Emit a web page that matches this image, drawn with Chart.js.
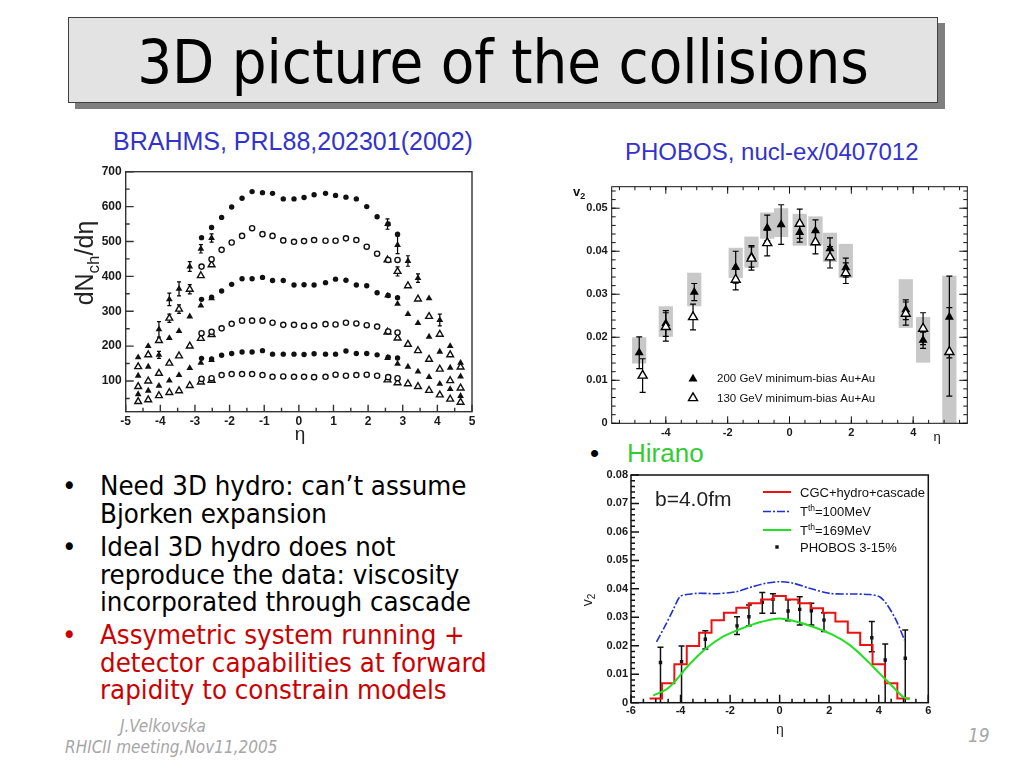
<!DOCTYPE html>
<html lang="en">
<head>
<meta charset="utf-8">
<title>3D picture of the collisions</title>
<script src="https://cdn.jsdelivr.net/npm/chart.js@4.4.0/dist/chart.umd.min.js"></script>
<style>
  html, body { margin: 0; padding: 0; background: #fff; }
  body { position: relative; width: 1024px; height: 768px; overflow: hidden; font-family: "Liberation Sans", Arial, sans-serif; }
  .abs { position: absolute; white-space: nowrap; }
  .tahoma { font-family: "DejaVu Sans Condensed", "DejaVu Sans", sans-serif; font-stretch: condensed; }
  #title-shadow { left: 75px; top: 23px; width: 870px; height: 86px; background: #7f7f7f; }
  #title-box { left: 68px; top: 17px; width: 870px; height: 86px; box-sizing: border-box; background: #e3e3e3; border: 1px solid #404040; }
  #title { left: 68px; top: 22px; width: 870px; text-align: center; font-size: 61px; line-height: 80px; color: #000; }
  .ref { font-size: 25px; color: #3333cc; line-height: normal; }
  .bullet { left: 100px; font-size: 27.4px; line-height: 27.7px; color: #000; }
  .bullet .dot { position: absolute; left: -38px; top: 0; }
  .red { color: #cc0000; }
  .foot { font-style: italic; color: #a6a6a6; font-size: 17px; line-height: normal; }
  canvas { position: absolute; }
</style>
</head>
<body>
<div id="title-shadow" class="abs"></div>
<div id="title-box" class="abs"></div>
<div id="title" class="abs tahoma">3D picture of the collisions</div>

<div class="abs ref" style="left:113px; top:127px;">BRAHMS, PRL88,202301(2002)</div>
<div class="abs ref" style="left:625px; top:138px; font-size:24px;">PHOBOS, nucl-ex/0407012</div>

<div class="abs bullet tahoma" style="top:472px;"><span class="dot">•</span>Need 3D hydro: can’t assume<br>Bjorken expansion</div>
<div class="abs bullet tahoma" style="top:533px;"><span class="dot">•</span>Ideal 3D hydro does not<br>reproduce the data: viscosity<br>incorporated through cascade</div>
<div class="abs bullet tahoma red" style="top:621px;"><span class="dot">•</span>Assymetric system running +<br>detector capabilities at forward<br>rapidity to constrain models</div>

<div class="abs" style="left:590px; top:438px; font-size:26px; color:#000;">•</div>
<div class="abs" style="left:627px; top:438px; font-size:26px; color:#33cc33;">Hirano</div>

<div class="abs foot tahoma" style="left:120px; top:716px;">J.Velkovska</div>
<div class="abs foot tahoma" style="left:65px; top:737px;">RHICII meeting,Nov11,2005</div>
<div class="abs foot tahoma" style="left:968px; top:724px; font-size:19px;">19</div>

<canvas id="brahms" width="430" height="290" style="left:60px; top:160px;"></canvas>
<canvas id="phobos" width="420" height="280" style="left:560px; top:170px;"></canvas>
<canvas id="hirano" width="380" height="290" style="left:570px; top:460px;"></canvas>

<script>
// ---------- BRAHMS dNch/deta, six centrality classes ----------
const brahmsMidEta = [-2.81, -2.52, -2.23, -1.94, -1.64, -1.35, -1.05, -0.76, -0.45, -0.14, 0.15, 0.44, 0.77, 1.06, 1.36, 1.66, 1.96, 2.26, 2.58, 2.85];
const brahmsMid0to5   = [511, 540, 569, 599, 624, 643, 640, 638, 622, 622, 626, 634, 638, 632, 627, 622, 600, 571, 550, 521];
const brahmsMid5to10  = [428, 449, 476, 497, 516, 538, 521, 516, 503, 499, 501, 504, 502, 502, 509, 504, 485, 465, 447, 447];
const brahmsMid10to20 = [334, 340, 358, 377, 393, 393, 397, 388, 388, 375, 376, 375, 382, 392, 389, 375, 373, 353, 345, 339];
const brahmsMid20to30 = [237, 241, 251, 264, 273, 273, 273, 267, 261, 261, 258, 259, 263, 262, 267, 265, 260, 256, 242, 239];
const brahmsMid30to40 = [165, 163, 174, 179, 183, 183, 187, 177, 177, 177, 176, 178, 177, 177, 186, 179, 179, 175, 168, 166];
const brahmsMid40to50 = [106, 108, 117, 120, 120, 120, 117, 112, 113, 112, 112, 111, 112, 118, 115, 117, 118, 115, 111, 108];

const brahmsFwdEta = [-4.64, -4.35, -4.04, -3.74, -3.46, -3.15, -2.83, -2.52, 2.56, 2.85, 3.15, 3.44, 3.76, 4.07, 4.37, 4.67];
const brahmsFwd0to5   = [168, 200, 248, 334, 364, 428, 479, 510, 550, 490, 444, 395, 337, 275, 200, 152];
const brahmsFwd5to10  = [141, 175, 216, 280, 306, 363, 402, 433, 447, 414, 373, 335, 285, 234, 175, 140];
const brahmsFwd10to20 = [115, 141, 175, 223, 243, 285, 316, 337, 345, 321, 292, 266, 227, 184, 138, 113];
const brahmsFwd20to30 = [84, 100, 122, 151, 172, 200, 222, 233, 240, 223, 205, 187, 162, 134, 101, 80];
const brahmsFwd30to40 = [62, 72, 86, 101, 117, 137, 152, 160, 166, 149, 141, 127, 111, 92, 77, 57];
const brahmsFwd40to50 = [41, 46, 58, 67, 72, 87, 97, 102, 103, 95, 92, 84, 73, 60, 48, 39];
const brahmsFwdErr0to5   = [0, 0, 22, 18, 20, 14, 12, 12, 15, 25, 15, 12, 0, 17, 0, 0];
const brahmsFwdErr5to10  = [0, 0, 0, 12, 12, 13, 0, 0, 0, 13, 0, 0, 0, 0, 0, 0];
const brahmsFwdErr10to20 = [0, 0, 10, 0, 0, 0, 0, 0, 0, 0, 0, 0, 0, 0, 0, 0];

const brahmsXTicks = [-5, -4, -3, -2, -1, 0, 1, 2, 3, 4, 5];
const brahmsXLabels = ['-5', '-4', '-3', '-2', '-1', '0', '1', '2', '3', '4', '5'];
const brahmsYTicks = [100, 200, 300, 400, 500, 600, 700];
const brahmsYLabels = ['100', '200', '300', '400', '500', '600', '700'];

// ---------- PHOBOS v2(eta), minimum bias Au+Au ----------
const phobosEta200 = [-4.86, -4.0, -3.08, -1.74, -1.23, -0.72, -0.27, 0.33, 0.84, 1.31, 1.82, 3.76, 4.32, 5.17];
const phobosV2_200 = [0.0164, 0.0232, 0.0305, 0.0363, 0.0388, 0.0454, 0.0462, 0.0444, 0.0448, 0.0406, 0.0362, 0.0264, 0.0193, 0.0247];
const phobosErr200 = [0.0037, 0.003, 0.002, 0.0037, 0.0025, 0.003, 0.0046, 0.0023, 0.0025, 0.0025, 0.0022, 0.0023, 0.0019, 0.0095];
const phobosSysLow  = [0.0139, 0.0201, 0.0272, 0.0338, 0.0362, 0.0429, 0.0433, 0.0413, 0.0413, 0.0375, 0.0338, 0.0222, 0.0141, 0];
const phobosSysHigh = [0.0200, 0.0272, 0.0350, 0.0408, 0.0434, 0.0490, 0.0500, 0.0487, 0.0481, 0.0443, 0.0417, 0.0335, 0.0247, 0.0343];
const phobosEta130 = [-4.75, -4.0, -3.12, -1.74, -1.23, -0.72, 0.33, 0.84, 1.31, 1.82, 3.76, 4.32, 5.17];
const phobosV2_130 = [0.0111, 0.0224, 0.0247, 0.0334, 0.0383, 0.0419, 0.0464, 0.0421, 0.0386, 0.0349, 0.0255, 0.0220, 0.0166];
const phobosErr130 = [0.0039, 0.0033, 0.003, 0.0024, 0.0027, 0.003, 0.0034, 0.0027, 0.0025, 0.0024, 0.0027, 0.0037, 0.0103];

const phobosXTicks = [-4, -2, 0, 2, 4];
const phobosXLabels = ['-4', '-2', '0', '2', '4'];
const phobosYTicks = [0, 0.01, 0.02, 0.03, 0.04, 0.05];
const phobosYLabels = ['0', '0.01', '0.02', '0.03', '0.04', '0.05'];

// ---------- Hirano: CGC + hydro + cascade vs PHOBOS 3-15% ----------
const cgcBinEdges = [-5.25, -4.75, -4.25, -3.75, -3.25, -2.75, -2.25, -1.75, -1.25, -0.75, -0.25, 0.25, 0.75, 1.25, 1.75, 2.25, 2.75, 3.25, 3.75, 4.25, 4.75, 5.25];
const cgcV2 = [0.0015, 0.0068, 0.0135, 0.0199, 0.0246, 0.029, 0.0316, 0.0334, 0.0349, 0.0363, 0.0375, 0.0363, 0.0349, 0.0332, 0.0316, 0.0285, 0.0246, 0.0203, 0.0135, 0.0068, 0.0015];
const t100Eta = [-4.97, -4.64, -4.30, -4.03, -3.76, -3.36, -2.96, -2.55, -1.75, -1.08, -0.54, 0, 0.54, 1.21, 2.02, 2.96, 3.63, 4.03, 4.30, 4.70, 5.04];
const t100V2  = [0.0214, 0.0267, 0.0326, 0.0372, 0.038, 0.0384, 0.0384, 0.0383, 0.039, 0.0408, 0.042, 0.0425, 0.042, 0.0402, 0.0384, 0.0382, 0.038, 0.0372, 0.0349, 0.029, 0.022];
const t169Eta = [-5.1, -4.57, -4.3, -3.63, -2.96, -2.29, -1.61, -0.94, -0.27, 0, 0.54, 1.34, 2.15, 2.82, 3.5, 4.03, 4.57, 4.97, 5.24];
const t169V2  = [0.0025, 0.0047, 0.0068, 0.0136, 0.0191, 0.0232, 0.0258, 0.0279, 0.0293, 0.0296, 0.0288, 0.0267, 0.0238, 0.0203, 0.015, 0.0103, 0.0056, 0.0021, 0.0012];
const phobos315Eta = [-4.81, -3.96, -3.0, -1.72, -1.24, -0.70, -0.27, 0.34, 0.81, 1.28, 1.79, 3.72, 4.26, 5.07];
const phobos315V2  = [0.0141, 0.0144, 0.0223, 0.027, 0.0302, 0.0353, 0.0363, 0.0322, 0.0328, 0.0323, 0.029, 0.0228, 0.015, 0.0156];
const phobos315Up  = [0.0054, 0.0055, 0.003, 0.0032, 0.0041, 0.0034, 0.002, 0.004, 0.0044, 0.0026, 0.0026, 0.0057, 0.0056, 0.0099];
const phobos315Dn  = [0.0141, 0.0144, 0.0034, 0.003, 0.0032, 0.0039, 0.0049, 0.0034, 0.0055, 0.005, 0.004, 0.0049, 0.015, 0.0156];

const hiranoXTicks = [-6, -4, -2, 0, 2, 4, 6];
const hiranoXLabels = ['-6', '-4', '-2', '0', '2', '4', '6'];
const hiranoYTicks = [0, 0.01, 0.02, 0.03, 0.04, 0.05, 0.06, 0.07, 0.08];
const hiranoYLabels = ['0', '0.01', '0.02', '0.03', '0.04', '0.05', '0.06', '0.07', '0.08'];

// ---------- helpers ----------
const pts = (xs, ys) => xs.map((x, i) => ({ x, y: ys[i] }));

const axis = (min, max, ticks, labels, size, pad, font) => ({
    type: 'linear', min, max,
    grid: { display: false, drawTicks: false },
    border: { display: false },
    afterBuildTicks: s => { s.ticks = ticks.map(v => ({ value: v })); },
    afterFit: s => { if (s.isHorizontal()) s.height = size; else s.width = size; },
    ticks: { padding: pad, font, color: '#1a1a1a', autoSkip: false, maxRotation: 0, callback: (v, i) => labels[i] }
});

function drawRich(ctx, t) {
    ctx.save();
    ctx.translate(t.x, t.y);
    if (t.rotate) ctx.rotate(t.rotate);
    ctx.fillStyle = t.color || '#000';
    ctx.textBaseline = 'alphabetic';
    const fontOf = p => `${t.weight || 'normal'} ${p.size}px ${t.family || '"Liberation Sans", Arial'}`;
    let total = 0;
    t.parts.forEach(p => { ctx.font = fontOf(p); total += ctx.measureText(p.t).width; });
    let cx = t.align === 'center' ? -total / 2 : (t.align === 'right' ? -total : 0);
    t.parts.forEach(p => {
        ctx.font = fontOf(p);
        ctx.fillText(p.t, cx, p.dy || 0);
        cx += ctx.measureText(p.t).width;
    });
    ctx.restore();
}

// ROOT-looking frame: boxes, error bars, inner ticks, free texts and legend
const rootPlot = {
    id: 'rootPlot',
    beforeDatasetsDraw(chart, args, o) {
        const { ctx, scales: { x, y } } = chart;
        ctx.save();
        (o.bands || []).forEach(b => {
            ctx.fillStyle = b.color;
            b.x.forEach((xv, i) => {
                const l = x.getPixelForValue(xv - b.halfWidth);
                const r = x.getPixelForValue(xv + b.halfWidth);
                const top = y.getPixelForValue(b.high[i]);
                const bot = y.getPixelForValue(b.low[i]);
                ctx.fillRect(l, top, r - l, bot - top);
            });
        });
        chart.data.datasets.forEach((ds, di) => {
            if (!ds.errUp) return;
            const meta = chart.getDatasetMeta(di);
            ctx.strokeStyle = ds.errColor || '#000';
            ctx.lineWidth = ds.errWidth || 1;
            ds.data.forEach((p, i) => {
                const up = ds.errUp[i] || 0;
                const dn = (ds.errDown || ds.errUp)[i] || 0;
                if (!up && !dn) return;
                const px = meta.data[i].x;
                const top = y.getPixelForValue(Math.min(p.y + up, y.max));
                const bot = y.getPixelForValue(Math.max(p.y - dn, y.min));
                const c = ds.capHalf || 0;
                ctx.beginPath();
                ctx.moveTo(px, top); ctx.lineTo(px, bot);
                if (c) {
                    ctx.moveTo(px - c, top); ctx.lineTo(px + c, top);
                    if (p.y - dn > y.min) { ctx.moveTo(px - c, bot); ctx.lineTo(px + c, bot); }
                }
                ctx.stroke();
            });
        });
        ctx.restore();
    },
    afterDatasetsDraw(chart, args, o) {
        const { ctx, chartArea: a, scales } = chart;
        ctx.save();
        ctx.strokeStyle = o.frameColor || '#000';
        ctx.lineWidth = o.frameWidth || 1;
        ctx.strokeRect(a.left, a.top, a.right - a.left, a.bottom - a.top);

        ['x', 'y'].forEach(key => {
            const cfg = o.ticks[key];
            const s = scales[key];
            const marks = [];
            for (let k = Math.ceil(s.min / cfg.minorStep - 1e-6); k * cfg.minorStep <= s.max + 1e-9; k++) {
                marks.push([k * cfg.minorStep, cfg.minorLen]);
            }
            cfg.major.forEach(v => marks.push([v, cfg.majorLen]));
            ctx.beginPath();
            marks.forEach(([v, len]) => {
                const p = s.getPixelForValue(v);
                cfg.sides.forEach(side => {
                    if (side === 'bottom') { ctx.moveTo(p, a.bottom); ctx.lineTo(p, a.bottom - len); }
                    if (side === 'top') { ctx.moveTo(p, a.top); ctx.lineTo(p, a.top + len); }
                    if (side === 'left') { ctx.moveTo(a.left, p); ctx.lineTo(a.left + len, p); }
                    if (side === 'right') { ctx.moveTo(a.right, p); ctx.lineTo(a.right - len, p); }
                });
            });
            ctx.stroke();
        });

        (o.texts || []).forEach(t => drawRich(ctx, t));

        (o.legend || []).forEach(it => {
            ctx.save();
            if (it.kind === 'line') {
                ctx.strokeStyle = it.color;
                ctx.lineWidth = it.width;
                ctx.setLineDash(it.dash || []);
                ctx.beginPath();
                ctx.moveTo(it.x1, it.y); ctx.lineTo(it.x2, it.y);
                ctx.stroke();
            } else {
                ctx.fillStyle = it.fill;
                ctx.strokeStyle = it.stroke;
                ctx.lineWidth = it.borderWidth || 1;
                Chart.helpers.drawPoint(ctx, { pointStyle: it.pointStyle, radius: it.radius, rotation: 0, borderWidth: it.borderWidth || 0 }, it.x, it.y);
            }
            ctx.restore();
            drawRich(ctx, { parts: it.label, x: it.tx, y: it.ty, family: it.family, color: '#111' });
        });
        ctx.restore();
    }
};

Chart.register(rootPlot);

const common = {
    responsive: false,
    animation: false,
    events: [],
    plugins: { legend: { display: false }, tooltip: { enabled: false } }
};

// ---------- BRAHMS chart ----------
const brahmsSets = [
    [brahmsMid0to5, brahmsFwd0to5, brahmsFwdErr0to5, true],
    [brahmsMid5to10, brahmsFwd5to10, brahmsFwdErr5to10, false],
    [brahmsMid10to20, brahmsFwd10to20, brahmsFwdErr10to20, true],
    [brahmsMid20to30, brahmsFwd20to30, null, false],
    [brahmsMid30to40, brahmsFwd30to40, null, true],
    [brahmsMid40to50, brahmsFwd40to50, null, false]
];
const brahmsDatasets = [];
brahmsSets.forEach(([mid, fwd, err, filled]) => {
    brahmsDatasets.push({
        data: pts(brahmsMidEta, mid), showLine: false, pointStyle: 'circle',
        pointRadius: filled ? 2.7 : 2.6, pointBackgroundColor: filled ? '#111' : '#fff',
        pointBorderColor: '#111', pointBorderWidth: filled ? 0 : 1.4
    });
    brahmsDatasets.push({
        data: pts(brahmsFwdEta, fwd), showLine: false, pointStyle: 'triangle',
        pointRadius: 3.9, pointBackgroundColor: filled ? '#111' : '#fff',
        pointBorderColor: '#111', pointBorderWidth: filled ? 0 : 1.4,
        errUp: err, capHalf: 2, errWidth: 1.2
    });
});

const tickFontB = { family: '"Liberation Sans", Arial', size: 12, weight: 'bold' };
new Chart(document.getElementById('brahms'), {
    type: 'scatter',
    data: { datasets: brahmsDatasets },
    options: {
        ...common,
        layout: { padding: { left: 0, top: 11.7, right: 18, bottom: 0 } },
        scales: {
            x: axis(-5, 5, brahmsXTicks, brahmsXLabels, 38.3, 3, tickFontB),
            y: axis(12, 700, brahmsYTicks, brahmsYLabels, 65.7, 4, tickFontB)
        },
        plugins: {
            ...common.plugins,
            rootPlot: {
                frameColor: '#333', frameWidth: 1.4,
                ticks: {
                    x: { major: brahmsXTicks, minorStep: 0.5, majorLen: 7, minorLen: 4, sides: ['bottom'] },
                    y: { major: brahmsYTicks, minorStep: 50, majorLen: 8, minorLen: 4, sides: ['left'] }
                },
                texts: [
                    { parts: [{ t: 'dN', size: 25 }, { t: 'ch', size: 17, dy: 6 }, { t: '/d\u03b7', size: 25 }],
                      x: 33, y: 103, rotate: -Math.PI / 2, align: 'center', color: '#222' },
                    { parts: [{ t: '\u03b7', size: 19 }], x: 240, y: 280, align: 'center', color: '#222' }
                ]
            }
        }
    }
});

// ---------- PHOBOS chart ----------
const tickFontP = { family: '"Liberation Sans", Arial', size: 11, weight: 'bold' };
new Chart(document.getElementById('phobos'), {
    type: 'scatter',
    data: {
        datasets: [
            { data: pts(phobosEta130, phobosV2_130), showLine: false, pointStyle: 'triangle', pointRadius: 5.2,
              pointBackgroundColor: '#fff', pointBorderColor: '#000', pointBorderWidth: 1.4,
              errUp: phobosErr130, capHalf: 3, errWidth: 1.2 },
            { data: pts(phobosEta200, phobosV2_200), showLine: false, pointStyle: 'triangle', pointRadius: 5.2,
              pointBackgroundColor: '#000', pointBorderColor: '#000', pointBorderWidth: 0,
              errUp: phobosErr200, capHalf: 3, errWidth: 1.2 }
        ]
    },
    options: {
        ...common,
        layout: { padding: { left: 0, top: 16.7, right: 12.7, bottom: 0 } },
        scales: {
            x: axis(-5.75, 5.75, phobosXTicks, phobosXLabels, 26.7, 3, tickFontP),
            y: axis(0, 0.055, phobosYTicks, phobosYLabels, 51.7, 4, tickFontP)
        },
        plugins: {
            ...common.plugins,
            rootPlot: {
                frameColor: '#111', frameWidth: 1,
                bands: [{ x: phobosEta200, low: phobosSysLow, high: phobosSysHigh, halfWidth: 0.23, color: '#c8c8c8' }],
                ticks: {
                    x: { major: phobosXTicks, minorStep: 0.5, majorLen: 7, minorLen: 3.5, sides: ['bottom', 'top'] },
                    y: { major: phobosYTicks, minorStep: 0.002, majorLen: 8, minorLen: 4, sides: ['left', 'right'] }
                },
                texts: [
                    { parts: [{ t: 'v', size: 13 }, { t: '2', size: 9, dy: 3 }], x: 13, y: 26, weight: 'bold', color: '#111' },
                    { parts: [{ t: '\u03b7', size: 13 }], x: 377, y: 271, align: 'center', color: '#111' }
                ],
                legend: [
                    { kind: 'point', pointStyle: 'triangle', radius: 5.2, fill: '#000', stroke: '#000', x: 133, y: 209,
                      label: [{ t: '200 GeV minimum-bias Au+Au', size: 11.5 }], tx: 157, ty: 212 },
                    { kind: 'point', pointStyle: 'triangle', radius: 5.2, fill: '#fff', stroke: '#000', borderWidth: 1.4, x: 133, y: 228,
                      label: [{ t: '130 GeV minimum-bias Au+Au', size: 11.5 }], tx: 157, ty: 232 }
                ]
            }
        }
    }
});

// ---------- Hirano chart ----------
const cgcStep = cgcBinEdges.map((e, i) => ({ x: e, y: cgcV2[Math.min(i, cgcV2.length - 1)] }));
const tickFontH = { family: '"Liberation Sans Narrow", "Liberation Sans", Arial', size: 11, weight: 'bold' };
new Chart(document.getElementById('hirano'), {
    type: 'scatter',
    data: {
        datasets: [
            { data: t100Eta.map((x, i) => ({ x, y: t100V2[i] })), showLine: true, pointRadius: 0,
              borderColor: '#1f2fd0', borderWidth: 1.6, borderDash: [8, 2, 2, 2], tension: 0.3 },
            { data: t169Eta.map((x, i) => ({ x, y: t169V2[i] })), showLine: true, pointRadius: 0,
              borderColor: '#22e022', borderWidth: 2, tension: 0.3 },
            { data: cgcStep, showLine: true, stepped: true, pointRadius: 0, borderColor: '#ee1111', borderWidth: 2 },
            { data: pts(phobos315Eta, phobos315V2), showLine: false, pointStyle: 'rect', pointRadius: 2.4,
              pointBackgroundColor: '#111', pointBorderWidth: 0,
              errUp: phobos315Up, errDown: phobos315Dn, capHalf: 3, errWidth: 1.5, errColor: '#111' }
        ]
    },
    options: {
        ...common,
        layout: { padding: { left: 0, top: 15, right: 21.7, bottom: 0 } },
        scales: {
            x: axis(-6, 6, hiranoXTicks, hiranoXLabels, 47.3, 2, tickFontH),
            y: axis(0, 0.08, hiranoYTicks, hiranoYLabels, 61, 3, tickFontH)
        },
        plugins: {
            ...common.plugins,
            rootPlot: {
                frameColor: '#111', frameWidth: 1.5,
                ticks: {
                    x: { major: hiranoXTicks, minorStep: 0.5, majorLen: 8, minorLen: 4, sides: ['bottom'] },
                    y: { major: hiranoYTicks, minorStep: 0.002, majorLen: 8, minorLen: 4, sides: ['left'] }
                },
                texts: [
                    { parts: [{ t: 'b=4.0fm', size: 21 }], x: 85, y: 46, color: '#222' },
                    { parts: [{ t: 'v', size: 14 }, { t: '2', size: 10, dy: 3 }], x: 22, y: 140, rotate: -Math.PI / 2, align: 'center', color: '#222' },
                    { parts: [{ t: '\u03b7', size: 14 }], x: 210, y: 274, align: 'center', color: '#222' }
                ],
                legend: [
                    { kind: 'line', color: '#ee1111', width: 2, x1: 193, x2: 221, y: 32,
                      label: [{ t: 'CGC+hydro+cascade', size: 13 }], tx: 230, ty: 36.5 },
                    { kind: 'line', color: '#1f2fd0', width: 1.6, dash: [8, 2, 2, 2], x1: 193, x2: 221, y: 51.5,
                      label: [{ t: 'T', size: 13 }, { t: 'th', size: 8.5, dy: -5 }, { t: '=100MeV', size: 13 }], tx: 230, ty: 56 },
                    { kind: 'line', color: '#22e022', width: 2, x1: 193, x2: 221, y: 70,
                      label: [{ t: 'T', size: 13 }, { t: 'th', size: 8.5, dy: -5 }, { t: '=169MeV', size: 13 }], tx: 230, ty: 74.5 },
                    { kind: 'point', pointStyle: 'rect', radius: 2.4, fill: '#111', stroke: '#111', x: 207, y: 87,
                      label: [{ t: 'PHOBOS 3-15%', size: 13 }], tx: 230, ty: 92 }
                ]
            }
        }
    }
});
</script>
</body>
</html>
